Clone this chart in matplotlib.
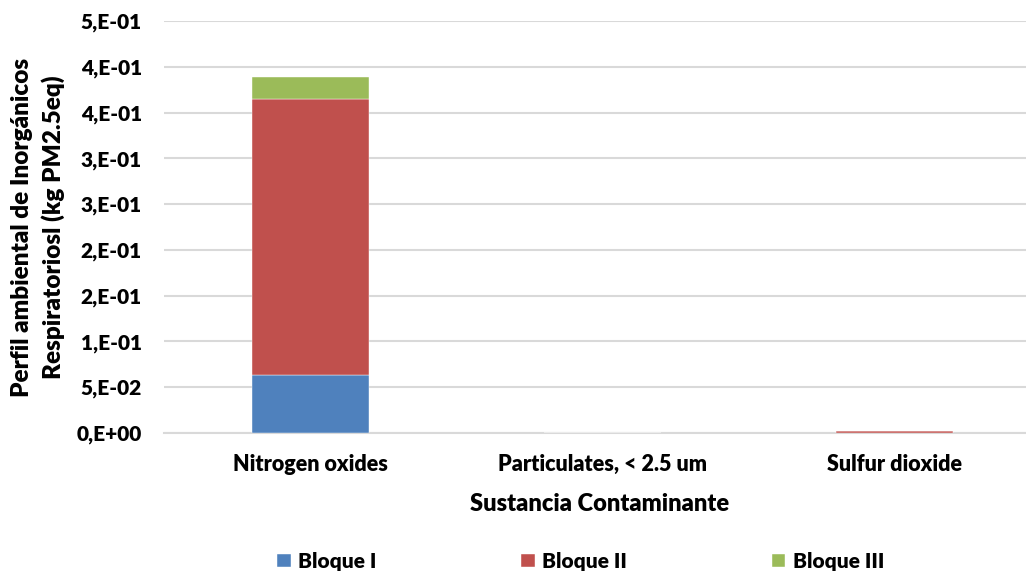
import matplotlib.pyplot as plt
from matplotlib.ticker import FixedLocator, FuncFormatter

# Datos
sustancias = ['Nitrogen oxides', 'Particulates, < 2.5 um', 'Sulfur dioxide']
bloque_1 = [0.0633, 0.0, 0.0002]
bloque_2 = [0.3010, 0.0, 0.0019]
bloque_3 = [0.0246, 0.0, 0.0001]
series = ['Bloque I', 'Bloque II', 'Bloque III']
colores = ['#4F81BD', '#C0504D', '#9BBB59']
y_ticks = [0.0, 0.05, 0.10, 0.15, 0.20, 0.25, 0.30, 0.35, 0.40, 0.45]

plt.rcParams['font.family'] = ['Lato', 'DejaVu Sans']
plt.rcParams['font.weight'] = 'heavy'

fig = plt.figure(figsize=(10.26, 5.71), dpi=100)
# el area de trazado se sale por la derecha, como en la imagen original
ax = fig.add_axes([0.160, 0.2417, 0.854, 0.7215])

x = range(len(sustancias))
abajo = [0.0] * len(sustancias)
for nombre, valores, color in zip(series, [bloque_1, bloque_2, bloque_3], colores):
    ax.bar(x, valores, width=0.4, bottom=abajo, color=color, label=nombre,
           edgecolor='white', linewidth=0.3, zorder=3)
    abajo = [a + v for a, v in zip(abajo, valores)]

ax.set_xlim(-0.5, 2.5)
ax.set_ylim(0, 0.45)


def formato_excel(v, pos):
    # formato tipo Excel "0,E+00"
    if v == 0:
        return '0,E+00'
    s = '%.0e' % (v + 1e-12)
    mant, exp = s.split('e')
    return '%s,E%s%02d' % (mant, exp[0], abs(int(exp)))


ax.yaxis.set_major_locator(FixedLocator(y_ticks))
ax.yaxis.set_major_formatter(FuncFormatter(formato_excel))
ax.set_xticks(list(x))
ax.set_xticklabels(sustancias)
ax.tick_params(axis='both', length=0, labelsize=15)
ax.tick_params(axis='y', pad=16)
ax.tick_params(axis='x', labelsize=15.5, pad=15)

ax.grid(axis='y', color='#D9D9D9', linewidth=1.5, zorder=0)
for lado in ['top', 'right', 'left']:
    ax.spines[lado].set_visible(False)
ax.spines['bottom'].set_color('#D9D9D9')
ax.spines['bottom'].set_linewidth(1.5)

ax.set_xlabel('Sustancia Contaminante', fontsize=17, fontweight='heavy')
ax.xaxis.set_label_coords(0.497, -0.145)
ax.set_ylabel('Perfil ambiental de Inorgánicos\nRespiratoriosl (kg PM2.5eq)',
              fontsize=17.5, fontweight='heavy', linespacing=1.4)
ax.yaxis.set_label_coords(-0.1135, 0.5)

fig.legend(loc='center', bbox_to_anchor=(0.566, 0.017), ncol=3, frameon=False,
           fontsize=15, handlelength=0.65, handleheight=0.65, handletextpad=0.35,
           columnspacing=6.95)

fig.savefig('out.png', dpi=100)
